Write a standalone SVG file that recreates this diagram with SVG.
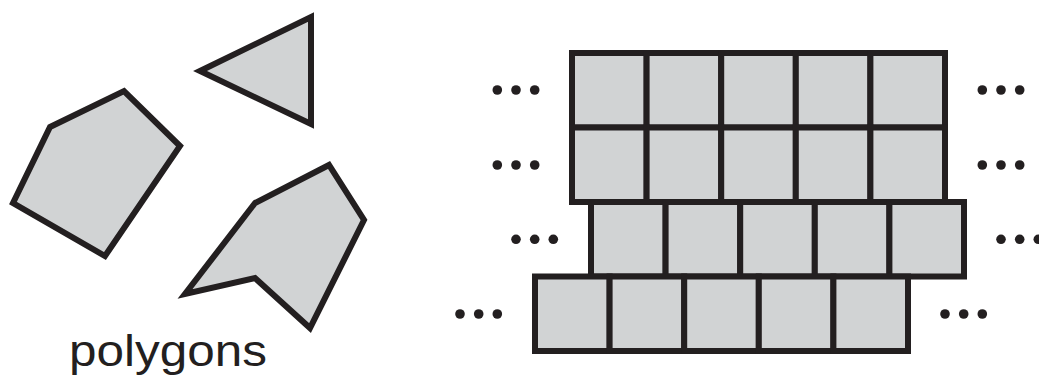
<svg xmlns="http://www.w3.org/2000/svg" width="1039" height="377" viewBox="0 0 1039 377">
<style>
.s{fill:#d1d3d4;stroke:#231f20;stroke-width:6;stroke-linejoin:miter;stroke-miterlimit:10}
.d{fill:#231f20}
.t{font-family:"Liberation Sans",Arial,sans-serif;font-size:44px;fill:#231f20}
</style>
<rect width="1039" height="377" fill="#fff"/>
<g id="polygons">
<polygon id="triangle" class="s" points="200,71 311,17 311,124"/>
<polygon id="pentagon" class="s" points="50,127 124,91 180,146 105,256 13,203"/>
<polygon id="arrowshape" class="s" points="255,203 329,165 364,220 310,328 255,278 185,294"/>
<text class="t" x="69" y="366" textLength="198" lengthAdjust="spacingAndGlyphs">polygons</text>
</g>
<g id="grid">
<g id="row1">
<rect class="s" x="572" y="53" width="74.6" height="74.5"/>
<rect class="s" x="646.6" y="53" width="74.6" height="74.5"/>
<rect class="s" x="721.2" y="53" width="74.6" height="74.5"/>
<rect class="s" x="795.8" y="53" width="74.6" height="74.5"/>
<rect class="s" x="870.4" y="53" width="74.6" height="74.5"/>
</g>
<g id="row2">
<rect class="s" x="572" y="127.5" width="74.6" height="74.5"/>
<rect class="s" x="646.6" y="127.5" width="74.6" height="74.5"/>
<rect class="s" x="721.2" y="127.5" width="74.6" height="74.5"/>
<rect class="s" x="795.8" y="127.5" width="74.6" height="74.5"/>
<rect class="s" x="870.4" y="127.5" width="74.6" height="74.5"/>
</g>
<g id="row3">
<rect class="s" x="591" y="202" width="74.6" height="74.5"/>
<rect class="s" x="665.6" y="202" width="74.6" height="74.5"/>
<rect class="s" x="740.2" y="202" width="74.6" height="74.5"/>
<rect class="s" x="814.8" y="202" width="74.6" height="74.5"/>
<rect class="s" x="889.4" y="202" width="74.6" height="74.5"/>
</g>
<g id="row4">
<rect class="s" x="535" y="276.5" width="74.6" height="74.5"/>
<rect class="s" x="609.6" y="276.5" width="74.6" height="74.5"/>
<rect class="s" x="684.2" y="276.5" width="74.6" height="74.5"/>
<rect class="s" x="758.8" y="276.5" width="74.6" height="74.5"/>
<rect class="s" x="833.4" y="276.5" width="74.6" height="74.5"/>
</g>
</g>
<g id="ellipses">
<circle class="d" cx="497.3" cy="90" r="4.8"/><circle class="d" cx="516" cy="90" r="4.8"/><circle class="d" cx="534.7" cy="90" r="4.8"/>
<circle class="d" cx="497.3" cy="165" r="4.8"/><circle class="d" cx="516" cy="165" r="4.8"/><circle class="d" cx="534.7" cy="165" r="4.8"/>
<circle class="d" cx="516" cy="239.3" r="4.8"/><circle class="d" cx="534.7" cy="239.3" r="4.8"/><circle class="d" cx="553.3" cy="239.3" r="4.8"/>
<circle class="d" cx="460" cy="314" r="4.8"/><circle class="d" cx="478.7" cy="314" r="4.8"/><circle class="d" cx="497.3" cy="314" r="4.8"/>
<circle class="d" cx="982.3" cy="90" r="4.8"/><circle class="d" cx="1001" cy="90" r="4.8"/><circle class="d" cx="1019.7" cy="90" r="4.8"/>
<circle class="d" cx="982.3" cy="165" r="4.8"/><circle class="d" cx="1001" cy="165" r="4.8"/><circle class="d" cx="1019.7" cy="165" r="4.8"/>
<circle class="d" cx="1001" cy="239.3" r="4.8"/><circle class="d" cx="1019.7" cy="239.3" r="4.8"/><circle class="d" cx="1038.3" cy="239.3" r="4.8"/>
<circle class="d" cx="945" cy="314" r="4.8"/><circle class="d" cx="963.7" cy="314" r="4.8"/><circle class="d" cx="982.3" cy="314" r="4.8"/>
</g>
</svg>
